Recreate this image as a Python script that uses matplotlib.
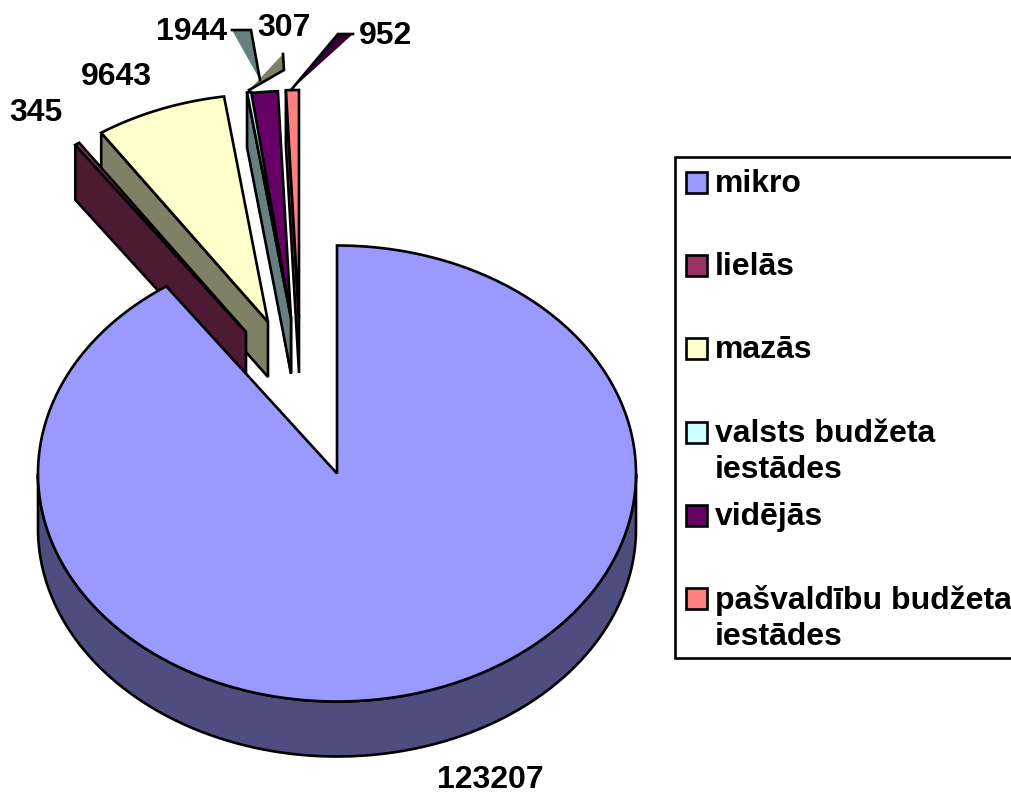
import numpy as np
import matplotlib
matplotlib.use("Agg")
import matplotlib.pyplot as plt
from matplotlib.patches import Polygon, Rectangle

categories = ["mikro", "lielās", "mazās", "valsts budžeta\niestādes", "vidējās",
              "pašvaldību budžeta\niestādes"]
values = [123207, 345, 9643, 307, 1944, 952]

face_colors = ["#9999FF", "#993366", "#FFFFCC", "#CCFFFF", "#660066", "#FF8080"]
side_colors = ["#4D4D80", "#4D1A33", "#808066", "#668080", "#330033", "#804040"]

# layout, in pixels of the 1011x793 figure
apex = [(337, 473.5), (246, 332), (268, 322), (291, 318), (291, 319), (299, 318)]
label_pos = [(490, 780), (36, 113), (116, 77), (284, 28), (192, 32), (385, 36)]
draw_order = [5, 4, 3, 2, 1, 0]
RX, RY, DEPTH = 299, 228, 55
LW = 1.9
FS = 23

plt.rcParams["font.family"] = ["Liberation Sans", "DejaVu Sans"]
fig = plt.figure(figsize=(10.11, 7.93), dpi=100)
ax = fig.add_axes([0, 0, 1, 1])
ax.set_xlim(0, 1011)
ax.set_ylim(793, 0)
ax.axis("off")

total = sum(values)
edges = np.concatenate([[0], np.cumsum(values)]) / total * 2 * np.pi


def arc(c, a0, a1, n=240):
    t = np.linspace(a0, a1, max(2, int(n * abs(a1 - a0) / np.pi) + 2))
    return np.column_stack([c[0] + RX * np.sin(t), c[1] - RY * np.cos(t)])


def poly(pts, fc, z=2):
    ax.add_patch(Polygon(pts, closed=True, facecolor=fc, edgecolor="black",
                         linewidth=LW, joinstyle="miter", zorder=z))


def leader(pts, fc, outline):
    ax.add_patch(Polygon(pts, closed=True, facecolor=fc, edgecolor="none", zorder=3))
    xs, ys = zip(*outline)
    ax.plot(xs, ys, color="black", linewidth=LW, solid_joinstyle="miter", zorder=3.1)


for i in draw_order:
    c = np.array(apex[i], float)
    a0, a1 = edges[i], edges[i + 1]
    if i == 0:
        # outer rim, front half only
        lo, hi = np.pi / 2, 3 * np.pi / 2
        top = arc(c, lo, hi)
        poly(np.vstack([top, (top + [0, DEPTH])[::-1]]), side_colors[i])
    else:
        # cut face on the slice's starting radius
        p = arc(c, a0, a0, 2)[0]
        poly([p, c, c + [0, DEPTH], p + [0, DEPTH]], side_colors[i])
    poly(np.vstack([[c], arc(c, a0, a1)]), face_colors[i])

# leader shapes of the data labels
leader([(232, 30), (251, 30), (260, 80)], side_colors[3],
       [(232, 30), (251, 30), (260, 80)])
leader([(249, 90), (283, 54), (284, 70), (258, 85)], side_colors[2],
       [(283, 54), (284, 70), (258, 85), (249, 90)])
leader([(338, 34), (353, 34), (291, 90)], side_colors[4],
       [(353, 34), (338, 34), (291, 90)])

for v, (x, y) in zip(values, label_pos):
    ax.text(x, y, str(v), ha="center", va="center", fontsize=FS,
            fontweight="bold", color="black", zorder=5)

# legend
ax.add_patch(Rectangle((675, 157), 345, 501, facecolor="white", edgecolor="black",
                       linewidth=LW, zorder=1, clip_on=True))
legend_y = [183, 266, 349, 433, 516, 599]
for name, fc, y in zip(categories, face_colors, legend_y):
    ax.add_patch(Rectangle((685.5, y - 11), 21, 21, facecolor=fc, edgecolor="black",
                           linewidth=LW, zorder=3))
    ax.text(715, y - 14, name, ha="left", va="top", fontsize=FS, fontweight="bold",
            color="black", linespacing=1.28, zorder=5)

fig.savefig("out.png", dpi=100, facecolor="white")
